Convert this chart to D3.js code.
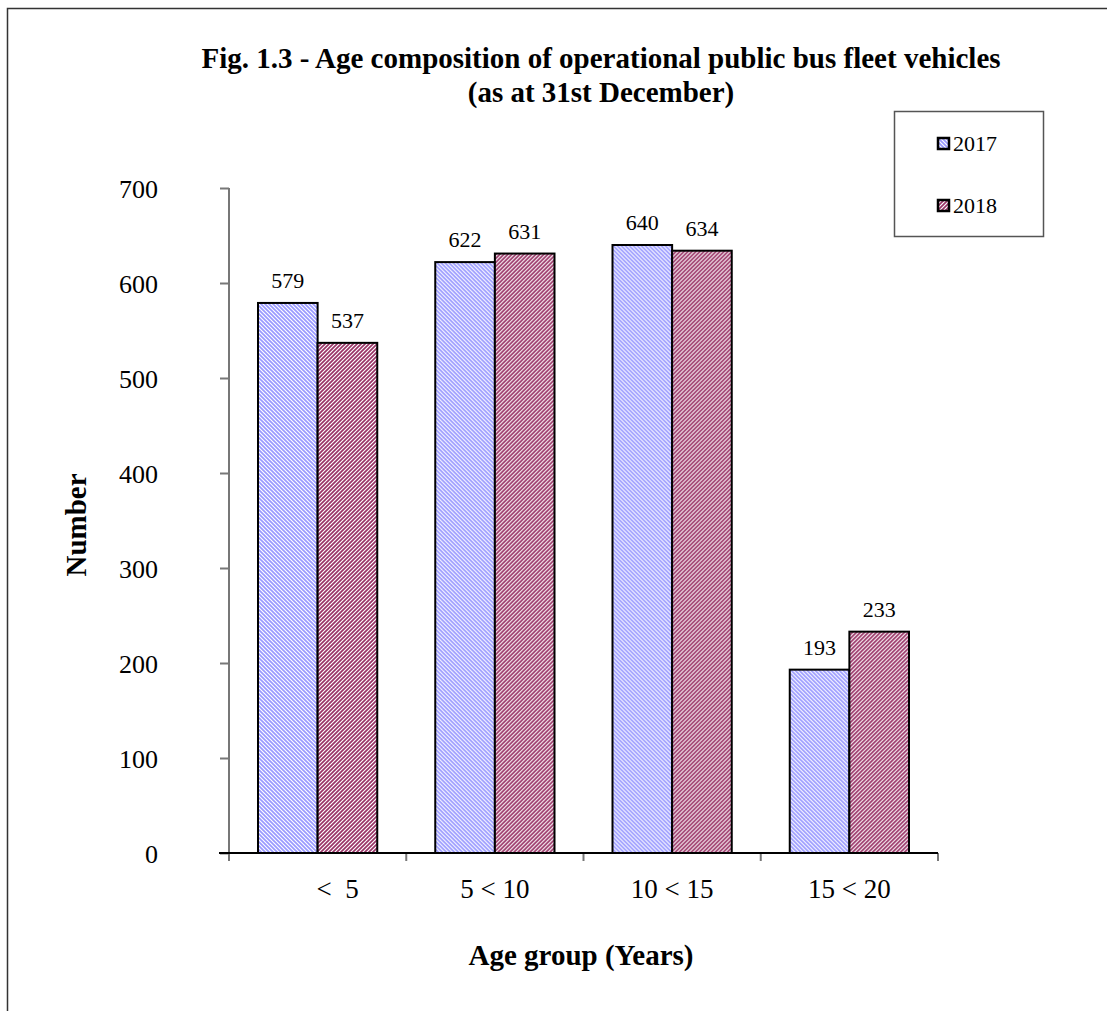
<!DOCTYPE html>
<html>
<head>
<meta charset="utf-8">
<script src="https://cdn.jsdelivr.net/npm/d3@7"></script>
<style>
  body { margin: 0; background: #fff; }
  text { font-family: "Liberation Serif", "Times New Roman", serif; }
</style>
</head>
<body>
<script>
var categories = ["<  5", "5 < 10", "10 < 15", "15 < 20"];
var years = ["2017", "2018"];
var values2017 = [579, 622, 640, 193];
var values2018 = [537, 631, 634, 233];
var yTicks = [0, 100, 200, 300, 400, 500, 600, 700];

var width = 1107, height = 1011;
var margin = {top: 188, right: 169, bottom: 158, left: 229};

var svg = d3.select("body").append("svg")
    .attr("width", width)
    .attr("height", height);

// hatch patterns, 4px tiles so the stripes stay crisp
var defs = svg.append("defs");
var hatch = [
    {id: "h2017", color: "#9999ff", d: "M-1,3L1,5M0,0L4,4M3,-1L5,1"},
    {id: "h2018", color: "#993366", d: "M-1,1L1,-1M0,4L4,0M3,5L5,3"}
];
hatch.forEach((h) => {
    var p = defs.append("pattern")
        .attr("id", h.id)
        .attr("patternUnits", "userSpaceOnUse")
        .attr("width", 4)
        .attr("height", 4);
    p.append("rect").attr("width", 4).attr("height", 4).attr("fill", "#fff");
    p.append("path").attr("d", h.d)
        .attr("stroke", h.color)
        .attr("stroke-width", 1.7);
});

// outer frame (runs off the page on the right and bottom)
svg.append("rect")
    .attr("x", 7.5).attr("y", 8.5)
    .attr("width", 1200).attr("height", 1100)
    .attr("fill", "none")
    .attr("stroke", "#333")
    .attr("stroke-width", 1.5);

var plotW = width - margin.left - margin.right;
var plotH = height - margin.top - margin.bottom;

var x0 = d3.scaleBand().domain(categories).range([0, plotW]).paddingInner(0).paddingOuter(0);
var x1 = d3.scaleBand().domain(years).range([29, x0.bandwidth() - 29]);
var y = d3.scaleLinear().domain([0, 700]).range([plotH, 0]);

var g = svg.append("g")
    .attr("transform", "translate(" + margin.left + "," + margin.top + ")");

// y axis
var yAxis = g.append("g")
    .call(d3.axisLeft(y).tickValues(yTicks).tickSize(9).tickPadding(62));
yAxis.select(".domain").attr("stroke", "#777").attr("stroke-width", 2)
    .attr("d", "M0,0V" + (plotH + 8));
yAxis.selectAll(".tick line").attr("stroke", "#777").attr("stroke-width", 2);
yAxis.selectAll(".tick text")
    .attr("font-size", 26)
    .attr("fill", "#000")
    .attr("dy", "0.35em")
    .style("font-family", "Liberation Serif, serif");

// bars
var rows = categories.map((c, i) => ({cat: c, vals: [values2017[i], values2018[i]]}));
var groups = g.selectAll(".grp")
    .data(rows)
    .enter().append("g")
    .attr("transform", (d) => "translate(" + x0(d.cat) + ",0)");

groups.selectAll("rect")
    .data((d) => d.vals.map((v, j) => ({year: years[j], v: v})))
    .enter().append("rect")
    .attr("x", (d) => x1(d.year))
    .attr("width", x1.bandwidth())
    .attr("y", (d) => y(d.v))
    .attr("height", (d) => plotH - y(d.v))
    .attr("fill", (d) => "url(#h" + d.year + ")")
    .attr("stroke", "#000")
    .attr("stroke-width", 2);

groups.selectAll(".lbl")
    .data((d) => d.vals.map((v, j) => ({year: years[j], v: v})))
    .enter().append("text")
    .attr("x", (d) => x1(d.year) + x1.bandwidth() / 2)
    .attr("y", (d) => y(d.v) - 15)
    .attr("text-anchor", "middle")
    .attr("font-size", 22)
    .text((d) => d.v);

// x axis
var xAxis = g.append("g")
    .attr("transform", "translate(0," + plotH + ")")
    .call(d3.axisBottom(x0).tickSize(0).tickPadding(26));
xAxis.select(".domain").remove();
xAxis.selectAll(".tick text")
    .attr("font-size", 27)
    .attr("fill", "#000")
    .style("white-space", "pre")
    .style("font-family", "Liberation Serif, serif")
    .attr("dx", (d, i) => i == 0 ? 20 : 0);

g.selectAll(".xtick")
    .data(d3.range(categories.length + 1))
    .enter().append("line")
    .attr("x1", (i) => i * x0.bandwidth())
    .attr("x2", (i) => i * x0.bandwidth())
    .attr("y1", plotH)
    .attr("y2", plotH + 8)
    .attr("stroke", "#777")
    .attr("stroke-width", 2);

g.append("line")
    .attr("x1", -10).attr("x2", plotW)
    .attr("y1", plotH).attr("y2", plotH)
    .attr("stroke", "#000")
    .attr("stroke-width", 2);

// titles
svg.append("text")
    .attr("x", 601).attr("y", 68)
    .attr("text-anchor", "middle")
    .attr("font-size", 29)
    .attr("font-weight", "bold")
    .text("Fig. 1.3 - Age composition of operational public bus fleet vehicles");
svg.append("text")
    .attr("x", 601).attr("y", 102)
    .attr("text-anchor", "middle")
    .attr("font-size", 29)
    .attr("font-weight", "bold")
    .text("(as at 31st December)");

svg.append("text")
    .attr("transform", "translate(86,525) rotate(-90)")
    .attr("text-anchor", "middle")
    .attr("font-size", 29)
    .attr("font-weight", "bold")
    .text("Number");

svg.append("text")
    .attr("x", 581).attr("y", 965)
    .attr("text-anchor", "middle")
    .attr("font-size", 29)
    .attr("font-weight", "bold")
    .text("Age group (Years)");

// legend
var leg = svg.append("g");
leg.append("rect")
    .attr("x", 894.5).attr("y", 111.5)
    .attr("width", 149).attr("height", 125)
    .attr("fill", "#fff")
    .attr("stroke", "#555")
    .attr("stroke-width", 1.5);
years.forEach((yr, i) => {
    var ly = 144 + i * 62;
    leg.append("rect")
        .attr("x", 938).attr("y", ly - 6)
        .attr("width", 11).attr("height", 11)
        .attr("fill", "url(#h" + yr + ")")
        .attr("stroke", "#000")
        .attr("stroke-width", 2.5);
    leg.append("text")
        .attr("x", 953).attr("y", ly + 7)
        .attr("font-size", 22)
        .text(yr);
});
</script>
</body>
</html>
